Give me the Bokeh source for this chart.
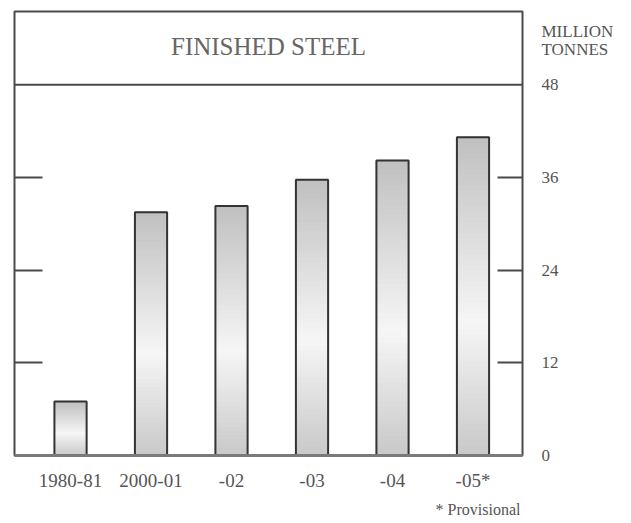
import numpy as np
from bokeh.plotting import figure
from bokeh.models import (Range1d, LinearAxis, FixedTicker, Span, Label, Title, ColumnDataSource)
from bokeh.embed import file_html
from bokeh.resources import INLINE

# ---- data ----
categories = ["1980-81", "2000-01", "-02", "-03", "-04", "-05*"]
values = [7.0, 31.5, 32.3, 35.7, 38.2, 41.2]
y_ticks = [0, 12, 24, 36, 48]
title_text = "FINISHED STEEL"
unit_lines = ["MILLION", "TONNES"]
unit_pos = [54.9, 52.6]
note_text = "*  Provisional"

FONT = "Liberation Serif"
BORDER = "#4a4a4a"

xs = list(range(len(categories)))

p = figure(width=630, height=522, output_backend="svg", toolbar_location=None,
           x_range=Range1d(-0.696, 5.615), y_range=Range1d(0, 57.47),
           x_axis_location=None, y_axis_location=None,
           min_border_left=14, min_border_top=11, min_border_right=108, min_border_bottom=62)
p.grid.visible = False
p.outline_line_color = BORDER
p.outline_line_width = 2
p.background_fill_color = "white"
p.border_fill_color = "white"

# gradient bars built as horizontal bands
N = 60
def shade(t):
    # t: 0 at bottom, 1 at top
    peak = 0.42
    if t < peak:
        g = 200 + (246 - 200) * (t / peak)
    else:
        g = 246 - (246 - 192) * ((t - peak) / (1 - peak))
    g = int(round(g))
    return "#%02x%02x%02x" % (g, g, g)

bx, bb, bt, bc = [], [], [], []
for x, v in zip(xs, values):
    for i in range(N):
        bx.append(x)
        bb.append(v * i / N)
        bt.append(v * (i + 1) / N)
        bc.append(shade((i + 0.5) / N))
bands = ColumnDataSource(dict(x=bx, bottom=bb, top=bt, color=bc))
p.vbar(x="x", bottom="bottom", top="top", width=0.4, source=bands,
       fill_color="color", line_color="color", line_width=1)

src = ColumnDataSource(dict(x=xs, top=values))
p.vbar(x="x", top="top", bottom=0, width=0.4, source=src,
       fill_color=None, line_color="#333333", line_width=2)

# title box separator
p.add_layout(Span(location=48, dimension="width", line_color=BORDER, line_width=2))

# bottom axis
xaxis = LinearAxis(ticker=FixedTicker(ticks=xs),
                   major_label_overrides={i: c for i, c in enumerate(categories)})
xaxis.axis_line_color = "#7a7a7a"
xaxis.axis_line_width = 3
xaxis.major_tick_line_color = None
xaxis.minor_tick_line_color = None
xaxis.major_label_text_font = FONT
xaxis.major_label_text_font_size = "19px"
xaxis.major_label_text_color = "#555555"
xaxis.major_label_standoff = 8
p.add_layout(xaxis, "below")

# footnote
p.add_layout(Title(text=note_text, align="right", text_font=FONT,
                   text_font_size="16px", text_color="#555555",
                   text_font_style="normal", offset=-2), "below")

# right axis: inward ticks only
rticks = LinearAxis(ticker=FixedTicker(ticks=y_ticks[1:-1]),
                    major_label_overrides={t: "" for t in y_ticks[1:-1]})
rticks.axis_line_color = None
rticks.major_tick_in = 25
rticks.major_tick_out = 0
rticks.major_tick_line_color = BORDER
rticks.major_tick_line_width = 2
rticks.minor_tick_line_color = None
rticks.major_label_standoff = 0
rticks.major_label_text_font_size = "0px"
p.add_layout(rticks, "right")

# right axis: labels (values and unit)
lab_ticks = y_ticks + unit_pos
overrides = {t: str(t) for t in y_ticks}
overrides.update({pos: txt for pos, txt in zip(unit_pos, unit_lines)})
raxis = LinearAxis(ticker=FixedTicker(ticks=lab_ticks), major_label_overrides=overrides)
raxis.axis_line_color = None
raxis.major_tick_line_color = None
raxis.minor_tick_line_color = None
raxis.major_label_text_font = FONT
raxis.major_label_text_font_size = "17px"
raxis.major_label_text_color = "#555555"
raxis.major_label_standoff = 13
p.add_layout(raxis, "right")

# left axis: inward ticks only
laxis = LinearAxis(ticker=FixedTicker(ticks=y_ticks[1:-1]),
                   major_label_overrides={t: "" for t in y_ticks[1:-1]})
laxis.axis_line_color = None
laxis.major_tick_in = 28
laxis.major_tick_out = 0
laxis.major_tick_line_color = BORDER
laxis.major_tick_line_width = 2
laxis.minor_tick_line_color = None
laxis.major_label_standoff = 0
laxis.major_label_text_font_size = "0px"
p.add_layout(laxis, "left")

# title inside the top box
p.add_layout(Label(x=2.46, y=52.9, text=title_text, text_align="center",
                   text_baseline="middle", text_font=FONT, text_font_size="25px",
                   text_color="#666666"))

open("out.html", "w").write(file_html(p, INLINE))
